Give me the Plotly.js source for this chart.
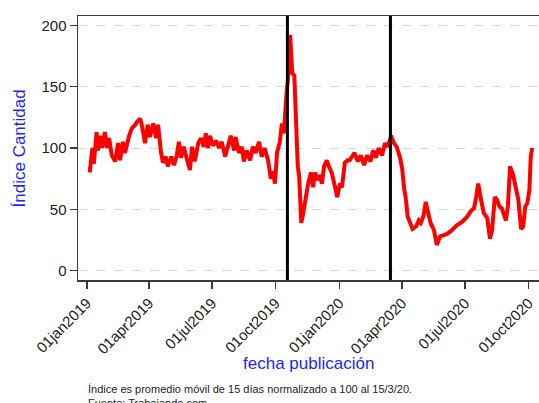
<!DOCTYPE html>
<html>
<head>
<meta charset="utf-8">
<script src="https://cdn.plot.ly/plotly-3.0.1.min.js"></script>
<style>
html,body{margin:0;padding:0;overflow:hidden;background:#fff;}
#chart{width:539px;height:403px;}
</style>
</head>
<body>
<div id="chart"></div>
<script>
// Fechas de publicación (lectura del gráfico)
const fechas = [
 "2019-01-05","2019-01-09","2019-01-11","2019-01-15","2019-01-17","2019-01-20","2019-01-23","2019-01-27","2019-01-30",
 "2019-02-02","2019-02-06","2019-02-11","2019-02-15","2019-02-18","2019-02-22","2019-02-25",
 "2019-03-03","2019-03-07","2019-03-12","2019-03-14","2019-03-19","2019-03-22","2019-03-26","2019-03-30",
 "2019-04-02","2019-04-07","2019-04-11","2019-04-14","2019-04-18","2019-04-21","2019-04-25","2019-04-28",
 "2019-05-03","2019-05-07","2019-05-11","2019-05-14","2019-05-17","2019-05-21","2019-05-26","2019-05-30",
 "2019-06-02","2019-06-06","2019-06-11","2019-06-15","2019-06-19","2019-06-22","2019-06-25","2019-06-28",
 "2019-07-02","2019-07-07","2019-07-11","2019-07-15","2019-07-20","2019-07-24","2019-07-28",
 "2019-08-02","2019-08-04","2019-08-09","2019-08-13","2019-08-16","2019-08-20","2019-08-25","2019-08-29",
 "2019-09-02","2019-09-07","2019-09-11","2019-09-15","2019-09-20","2019-09-24","2019-09-27","2019-09-30",
 "2019-10-03","2019-10-07","2019-10-10","2019-10-13","2019-10-16","2019-10-19","2019-10-22","2019-10-25","2019-10-28","2019-10-30",
 "2019-11-02","2019-11-04","2019-11-07","2019-11-09","2019-11-14","2019-11-17","2019-11-21","2019-11-24","2019-11-27","2019-11-30",
 "2019-12-03","2019-12-07","2019-12-10","2019-12-14","2019-12-17","2019-12-21","2019-12-26","2019-12-29",
 "2020-01-02","2020-01-05","2020-01-09","2020-01-13","2020-01-16","2020-01-19","2020-01-23","2020-01-28",
 "2020-02-01","2020-02-06","2020-02-10","2020-02-15","2020-02-19","2020-02-23","2020-02-27",
 "2020-03-03","2020-03-07","2020-03-11","2020-03-16","2020-03-20","2020-03-24","2020-03-29",
 "2020-04-01","2020-04-04","2020-04-06","2020-04-09","2020-04-12","2020-04-16","2020-04-21","2020-04-25","2020-04-28",
 "2020-05-02","2020-05-05","2020-05-08","2020-05-12","2020-05-17","2020-05-21","2020-05-26","2020-05-30",
 "2020-06-05","2020-06-12","2020-06-19","2020-06-27",
 "2020-07-04","2020-07-10","2020-07-14","2020-07-17","2020-07-20","2020-07-24","2020-07-28",
 "2020-08-02","2020-08-06","2020-08-09","2020-08-13","2020-08-16","2020-08-20","2020-08-23","2020-08-26","2020-08-29",
 "2020-09-01","2020-09-04","2020-09-08","2020-09-13","2020-09-16","2020-09-20","2020-09-23","2020-09-26","2020-09-29",
 "2020-10-02","2020-10-04","2020-10-06"
];
// Índice cantidad (promedio móvil 15 días, 100 = 15/3/20)
const indice = [
 80,100,87,113,98,110,100,113,100,
 108,94,89,104,90,105,96,
 110,116,119,121,124,117,104,119,
 109,120,108,119,97,88,93,85,
 93,86,94,105,92,101,90,82,
 101,89,104,108,101,112,100,110,
 102,106,100,105,93,102,110,
 98,109,96,101,89,98,90,101,
 96,105,93,100,90,75,81,71,
 96,105,120,112,139,157,192,161,159,123,
 85,77,39,44,63,71,80,68,80,74,
 78,71,85,90,85,80,68,60,
 71,68,88,90,90,93,96,89,
 94,86,94,89,98,92,100,
 94,104,101,110,104,101,92,
 83,66,60,44,39,34,36,41,39,
 45,56,47,39,33,21,28,29,
 30,33,37,40,
 44,49,51,60,71,58,47,
 43,26,33,60,58,52,51,47,41,
 53,85,79,66,58,34,36,52,55,
 66,93,100
];
// Eventos marcados
const eventos = ["2019-10-18","2020-03-15"];
// Ejes
const xTickVals = ["2019-01-01","2019-04-01","2019-07-01","2019-10-01","2020-01-01","2020-04-01","2020-07-01","2020-10-01"];
const xTickText = ["01jan2019","01apr2019","01jul2019","01oct2019","01jan2020","01apr2020","01jul2020","01oct2020"];
const yTickVals = [0,50,100,150,200];

const font = "Arial, 'Liberation Sans', sans-serif";
const axisCol = "#3a3a3a";

const shapes = eventos.map(d => ({
  type: "line", xref: "x", yref: "paper", x0: d, x1: d, y0: 0, y1: 1,
  line: {color: "#000000", width: 3}
}));

const layout = {
  width: 539, height: 403,
  margin: {l: 78, r: 0, t: 16, b: 123},
  paper_bgcolor: "#ffffff", plot_bgcolor: "#ffffff",
  showlegend: false,
  font: {family: font, color: "#222222"},
  xaxis: {
    type: "date",
    range: ["2018-12-19 02:24", "2020-10-15 21:36"],
    tickmode: "array", tickvals: xTickVals, ticktext: xTickText,
    tickangle: -45, tickfont: {size: 15, family: font, color: "#222222"},
    ticks: "outside", ticklen: 7, tickwidth: 1.5, tickcolor: axisCol,
    showline: true, linecolor: axisCol, linewidth: 1.5, mirror: true,
    showgrid: false, zeroline: false
  },
  yaxis: {
    range: [-7.6, 207.6],
    tickmode: "array", tickvals: yTickVals,
    tickfont: {size: 15, family: font, color: "#222222"},
    ticks: "outside", ticklen: 7, tickwidth: 1.5, tickcolor: axisCol,
    showline: true, linecolor: axisCol, linewidth: 1.5,
    showgrid: true, gridcolor: "#d8d8d8", gridwidth: 1, griddash: "dash",
    zeroline: false
  },
  shapes: shapes,
  annotations: [
    {text: "Índice Cantidad", xref: "paper", yref: "paper", x: -0.127, y: 0.5,
     xanchor: "center", yanchor: "middle", textangle: -90, showarrow: false,
     font: {size: 17, family: font, color: "#1f1fff"}},
    {text: "fecha publicación", xref: "paper", yref: "paper", x: 0.5, y: -0.318,
     xanchor: "center", yanchor: "middle", showarrow: false,
     font: {size: 17, family: font, color: "#1f1fff"}},
    {text: "Índice es promedio móvil de 15 días normalizado a 100 al 15/3/20.<br>Fuente: Trabajando.com",
     xref: "paper", yref: "paper", x: 0.018, y: -0.384, xanchor: "left", yanchor: "top",
     align: "left", showarrow: false,
     font: {size: 11, family: font, color: "#222222"}}
  ]
};

Plotly.newPlot("chart", [{
  type: "scatter", mode: "lines", x: fechas, y: indice,
  line: {color: "#ff0000", width: 4},
  hoverinfo: "skip"
}], layout, {displayModeBar: false, staticPlot: true});
</script>
</body>
</html>
